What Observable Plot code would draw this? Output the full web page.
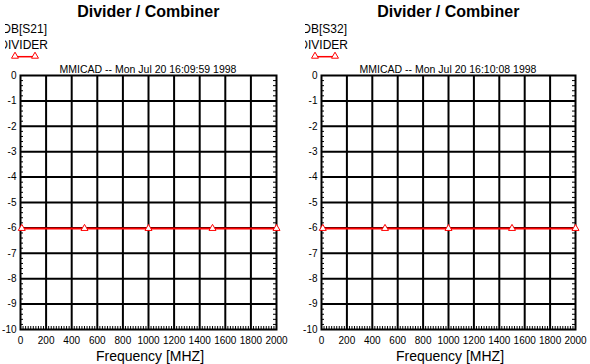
<!DOCTYPE html>
<html><head><meta charset="utf-8">
<script src="https://cdn.jsdelivr.net/npm/d3@7"></script>
<script src="https://cdn.jsdelivr.net/npm/@observablehq/plot@0.6"></script>
<style>
body{margin:0;background:#fff;}
#wrap{position:relative;width:590px;height:364px;overflow:hidden;background:#fff;font-family:"Liberation Sans",Arial,sans-serif;}
#wrap > svg{position:absolute;top:0;}
</style></head><body><div id="wrap"></div>
<script>
// ---- data ----
const chartTitle = "Divider / Combiner";
const xLabel = "Frequency [MHZ]";
const paramNames = ["DB[S21]", "DB[S32]"];
const seriesName = "DIVIDER";
const stamps = ["MMICAD -- Mon Jul 20 16:09:59 1998", "MMICAD -- Mon Jul 20 16:10:08 1998"];
const freq = [10, 500, 1000, 1500, 2000];
const s21 = [-6.02, -6.02, -6.02, -6.02, -6.02];
const s32 = [-6.02, -6.02, -6.02, -6.02, -6.02];
const xTicks = [0, 200, 400, 600, 800, 1000, 1200, 1400, 1600, 1800, 2000];
const yTicks = [0, -1, -2, -3, -4, -5, -6, -7, -8, -9, -10];
const xMinor = d3.range(20, 2000, 20).filter(v => v % 200 !== 0);
const yMinor = d3.range(1, 50).map(i => -i / 5).filter(v => Math.abs(v - Math.round(v)) > 1e-6);

const wrap = document.getElementById("wrap");
const H = 364, MT = 75, MB = 35;

function panel(values, left, width, mL, mR) {
  const fw = width - mL - mR, fh = H - MT - MB;
  const data = freq.map((f, i) => ({f, v: values[i]}));
  const p = Plot.plot({
    width, height: H, marginLeft: mL, marginRight: mR, marginTop: MT, marginBottom: MB,
    style: {fontFamily: "Liberation Sans, Arial, sans-serif", fontSize: "10px", background: "transparent", color: "#000", overflow: "visible"},
    x: {domain: [0, 2000], ticks: xTicks, tickSize: 0, tickPadding: 7, label: null, tickFormat: d => String(d)},
    y: {domain: [-10, 0], ticks: yTicks, tickSize: 0, tickPadding: 4, label: null, tickFormat: d => String(d)},
    marks: [
      Plot.ruleX(xTicks.slice(1, -1), {stroke: "#000", strokeWidth: 2}),
      Plot.ruleY(yTicks.slice(1, -1), {stroke: "#000", strokeWidth: 2}),
      Plot.tickX(xMinor, {x: d => d, stroke: "#000", strokeWidth: 1, insetTop: fh - 3}),
      Plot.tickY(yMinor, {y: d => d, stroke: "#000", strokeWidth: 1, insetRight: fw - 3}),
      Plot.tickY(yMinor, {y: d => d, stroke: "#000", strokeWidth: 1, insetLeft: fw - 3}),
      Plot.frame({stroke: "#000", strokeWidth: 2}),
      Plot.line(data, {x: "f", y: "v", stroke: "#ff0000", strokeWidth: 2}),
      Plot.dot(data, {x: "f", y: "v", symbol: "triangle", r: 2.6, stroke: "#ff0000", fill: "white", strokeWidth: 1})
    ]
  });
  p.style.left = left + "px";
  wrap.appendChild(p);
}

panel(s21, 0, 295, 20, 19);
panel(s32, 300, 290, 21, 15);

// ---- overlay texts & legend ----
const ov = d3.select(wrap).append("svg")
  .attr("width", 590).attr("height", 364)
  .style("left", "0px").style("pointer-events", "none")
  .attr("font-family", "Liberation Sans, Arial, sans-serif");
const defs = ov.append("defs");
[0, 300].forEach((ox, k) => {
  defs.append("clipPath").attr("id", "clip" + k)
    .append("rect").attr("x", ox + 5).attr("y", 0).attr("width", 100).attr("height", 60);
  ov.append("text").attr("x", ox + 148.25).attr("y", 16.7).attr("text-anchor", "middle")
    .attr("font-size", 16).attr("font-weight", "bold").text(chartTitle);
  ov.append("text").attr("x", ox + 148).attr("y", 72.7).attr("text-anchor", "middle")
    .attr("font-size", 10.5).text(stamps[k]);
  const g = ov.append("g").attr("clip-path", `url(#clip${k})`);
  g.append("text").attr("x", ox + 47).attr("y", 32.5).attr("text-anchor", "end")
    .attr("font-size", 12).text(paramNames[k]);
  g.append("text").attr("x", ox + 48).attr("y", 48.7).attr("text-anchor", "end")
    .attr("font-size", 12).text(seriesName);
  ov.append("line").attr("x1", ox + 15).attr("x2", ox + 35).attr("y1", 56.7).attr("y2", 56.7)
    .attr("stroke", "#ff0000").attr("stroke-width", 1.5);
  [15, 35].forEach(dx => {
    ov.append("path").attr("d", d3.symbol(d3.symbolTriangle, 21)())
      .attr("transform", `translate(${ox + dx},56.2)`)
      .attr("fill", "white").attr("stroke", "#ff0000");
  });
  ov.append("text").attr("x", ox + 150).attr("y", 360.7).attr("text-anchor", "middle")
    .attr("font-size", 14).text(xLabel);
});
</script>
</body></html>
